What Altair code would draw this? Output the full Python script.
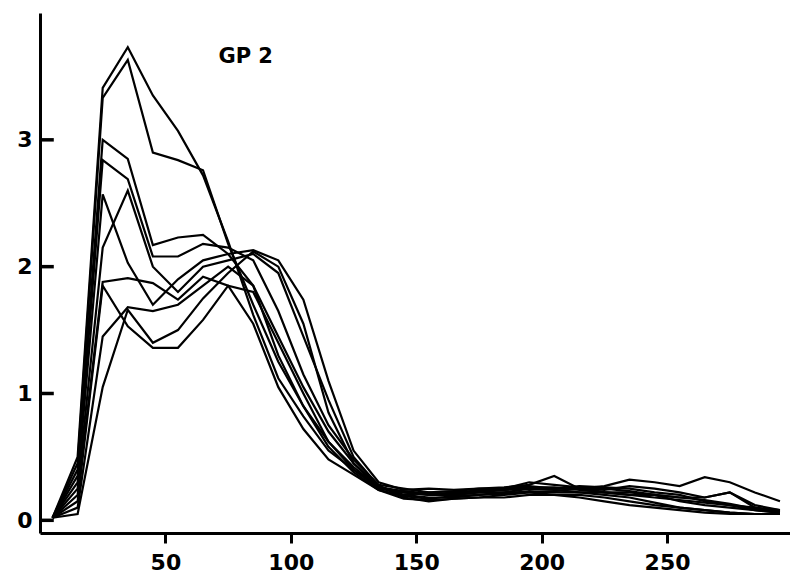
import altair as alt
import pandas as pd

x_vals = [5, 15, 25, 35, 45, 55, 65, 75, 85, 95, 105, 115, 125, 135,
          145, 155, 165, 175, 185, 195, 205, 215, 225, 235, 245, 255, 265, 275, 285, 295]

s_a = [0.02, 0.50, 3.41, 3.73, 3.35, 3.07, 2.72, 2.20, 1.62, 1.12, 0.82, 0.55, 0.40, 0.27,
       0.20, 0.18, 0.18, 0.20, 0.22, 0.22, 0.20, 0.18, 0.15, 0.12, 0.10, 0.08, 0.06, 0.05, 0.05, 0.05]
s_b = [0.02, 0.45, 3.33, 3.63, 2.90, 2.84, 2.76, 2.18, 1.70, 1.25, 0.90, 0.62, 0.42, 0.26,
       0.22, 0.20, 0.20, 0.22, 0.24, 0.25, 0.24, 0.22, 0.20, 0.18, 0.14, 0.10, 0.08, 0.06, 0.05, 0.05]
s_c = [0.02, 0.40, 3.00, 2.85, 2.17, 2.23, 2.25, 2.10, 1.85, 1.45, 1.05, 0.70, 0.45, 0.27,
       0.18, 0.15, 0.17, 0.18, 0.20, 0.22, 0.23, 0.25, 0.25, 0.23, 0.20, 0.15, 0.12, 0.10, 0.08, 0.06]
s_d = [0.02, 0.35, 2.84, 2.69, 2.08, 2.08, 2.18, 2.15, 2.05, 1.65, 1.15, 0.75, 0.48, 0.28,
       0.25, 0.22, 0.23, 0.25, 0.25, 0.27, 0.25, 0.25, 0.27, 0.32, 0.30, 0.27, 0.34, 0.30, 0.22, 0.15]
s_e = [0.02, 0.30, 2.57, 2.03, 1.70, 1.90, 2.05, 2.10, 2.13, 2.05, 1.74, 1.10, 0.55, 0.30,
       0.24, 0.25, 0.24, 0.25, 0.26, 0.28, 0.35, 0.25, 0.24, 0.27, 0.25, 0.22, 0.18, 0.22, 0.10, 0.07]
s_f = [0.02, 0.25, 2.15, 2.60, 2.00, 1.80, 2.00, 2.05, 2.10, 1.95, 1.45, 0.95, 0.50, 0.27,
       0.20, 0.22, 0.20, 0.22, 0.22, 0.25, 0.25, 0.27, 0.26, 0.25, 0.22, 0.20, 0.15, 0.12, 0.10, 0.08]
s_g = [0.02, 0.20, 1.88, 1.91, 1.87, 1.74, 1.92, 1.85, 1.55, 1.05, 0.72, 0.48, 0.36, 0.24,
       0.17, 0.16, 0.17, 0.18, 0.18, 0.20, 0.20, 0.20, 0.18, 0.15, 0.12, 0.10, 0.08, 0.06, 0.05, 0.05]
s_h = [0.02, 0.15, 1.85, 1.53, 1.36, 1.36, 1.58, 1.85, 1.80, 1.40, 1.00, 0.62, 0.40, 0.25,
       0.22, 0.20, 0.22, 0.23, 0.25, 0.30, 0.28, 0.26, 0.22, 0.20, 0.18, 0.16, 0.14, 0.12, 0.08, 0.06]
s_i = [0.02, 0.10, 1.45, 1.68, 1.65, 1.70, 1.85, 2.00, 1.85, 1.30, 0.90, 0.58, 0.38, 0.24,
       0.19, 0.17, 0.19, 0.20, 0.21, 0.23, 0.22, 0.22, 0.22, 0.22, 0.20, 0.18, 0.16, 0.13, 0.09, 0.06]
s_j = [0.02, 0.05, 1.05, 1.66, 1.40, 1.50, 1.75, 1.95, 2.12, 2.00, 1.55, 0.85, 0.45, 0.26,
       0.23, 0.21, 0.21, 0.24, 0.24, 0.26, 0.26, 0.24, 0.22, 0.20, 0.20, 0.18, 0.18, 0.22, 0.12, 0.08]

series = {"A": s_a, "B": s_b, "C": s_c, "D": s_d, "E": s_e,
          "F": s_f, "G": s_g, "H": s_h, "I": s_i, "J": s_j}

x_ticks = [50, 100, 150, 200, 250]
y_ticks = [0, 1, 2, 3]
title_text = "GP 2"

rows = []
for name, vals in series.items():
    for xv, yv in zip(x_vals, vals):
        rows.append({"series": name, "x": xv, "y": yv})
df = pd.DataFrame(rows)

FONT = "DejaVu Sans"

xscale = alt.Scale(domain=[0, 299], nice=False, zero=False)
yscale = alt.Scale(domain=[-0.1, 4.0], nice=False, zero=False)

lines = alt.Chart(df).mark_line(color="black", strokeWidth=2.2, strokeJoin="miter").encode(
    x=alt.X("x:Q", scale=xscale,
            axis=alt.Axis(values=x_ticks, title=None, grid=False, format="d",
                          domainColor="black", domainWidth=3,
                          tickColor="black", tickWidth=3, tickSize=10,
                          labelFont=FONT, labelFontSize=22, labelFontWeight="bold",
                          labelColor="black", labelPadding=9)),
    y=alt.Y("y:Q", scale=yscale,
            axis=alt.Axis(values=y_ticks, title=None, grid=False, format="d",
                          domainColor="black", domainWidth=3,
                          ticks=False, labelFont=FONT, labelFontSize=22,
                          labelFontWeight="bold", labelColor="black",
                          labelPadding=8)),
    detail="series:N",
)

# inward-pointing y-axis tick stubs, drawn as short line segments
tick_rows = []
for t in y_ticks:
    tick_rows.append({"tick": t, "x": 0, "y": t})
    tick_rows.append({"tick": t, "x": 5.5, "y": t})
tick_df = pd.DataFrame(tick_rows)
yt = alt.Chart(tick_df).mark_line(color="black", strokeWidth=3.5).encode(
    x=alt.X("x:Q", scale=xscale),
    y=alt.Y("y:Q", scale=yscale),
    detail="tick:N",
)

label = alt.Chart(pd.DataFrame({"x": [82], "y": [3.65], "t": [title_text]})).mark_text(
    font=FONT, fontSize=21, fontWeight="bold", color="black"
).encode(
    x=alt.X("x:Q", scale=xscale),
    y=alt.Y("y:Q", scale=yscale),
    text="t:N",
)

chart = alt.layer(lines, yt, label).properties(
    width=750, height=520,
    padding={"left": 40, "top": 13, "right": 0, "bottom": 46},
    autosize=alt.AutoSizeParams(type="none"),
    background="white",
).configure_view(stroke=None)

chart.save("out.html", embed_options={"renderer": "svg", "actions": False})
